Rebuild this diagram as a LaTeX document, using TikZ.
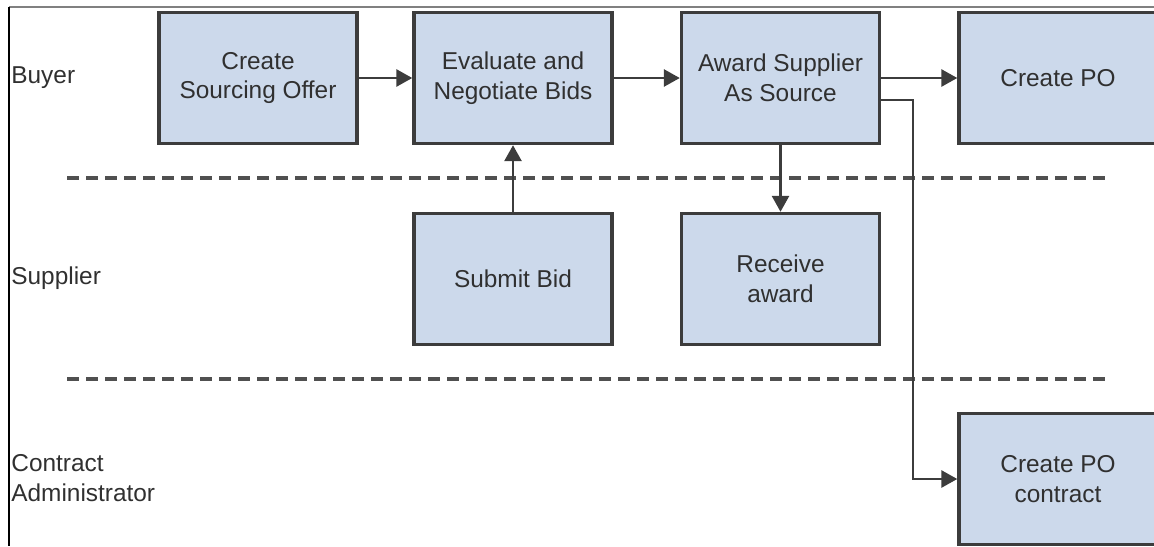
\documentclass[tikz,border=0pt]{standalone}
\usepackage{fontspec}
\setmainfont{Liberation Sans}
\usepackage{xcolor}
\usepackage{tikz}
\usetikzlibrary{arrows.meta,positioning}
\definecolor{boxc}{HTML}{CCD9EB}
\definecolor{edgec}{HTML}{3C3C3C}
\definecolor{inkc}{HTML}{303030}
\definecolor{lanec}{HTML}{505050}
\tikzset{
  ar/.style={-{Triangle[length=8pt,width=8.5pt]},line width=1.4pt,edgec},
  box/.style={draw=edgec,line width=1.7pt,fill=boxc,align=center,text=inkc,inner sep=0pt,
    minimum width=99pt,minimum height=65.5pt,font=\fontsize{12.2}{14.8}\selectfont},
  role/.style={anchor=west,align=left,text=inkc,inner sep=0pt,font=\fontsize{12.2}{14.8}\selectfont},
  lane/.style={lanec,line width=1.6pt,dash pattern=on 6pt off 3.5pt}
}

\begin{document}
\begin{tikzpicture}[x=0.5pt,y=-0.5pt]
\useasboundingbox (0,0) rectangle (1154,546);
\draw[gray,line width=0.6pt] (9,7)--(1154,7);
\draw[black,line width=0.9pt] (9,7)--(9,546);
% lanes
\node[role] (buyer) at (11,78) {Buyer};
\node[role] (supplier) at (11,278) {Supplier};
\node[role] (admin) at (11,478) {Contract\\Administrator};
\draw[lane] (67,178)--(1105,178);
\draw[lane] (67,379)--(1105,379);
% steps
\node[box] (offer) at (258,78) {Create\\Sourcing Offer};
\node[box] (evaluate) at (513,78) {Evaluate and\\Negotiate Bids};
\node[box] (award) at (780.5,78) {Award Supplier\\As Source};
\node[box] (po) at (1058,78) {Create PO};
\node[box] (bid) at (513,279) {Submit Bid};
\node[box] (receive) at (780.5,279) {Receive\\award};
\node[box] (contract) at (1058,479) {Create PO\\contract};
\coordinate (turn) at (913,100);
% flow
\draw[ar] (offer.east)--(evaluate.west);
\draw[ar] (evaluate.east)--(award.west);
\draw[ar] (award.east)--(po.west);
\draw[ar] (bid.north)--(evaluate.south);
\draw[ar] (award.south)--(receive.north);
\draw[ar] (award.east |- turn)--(turn) |- (contract.west);
\end{tikzpicture}
\end{document}
